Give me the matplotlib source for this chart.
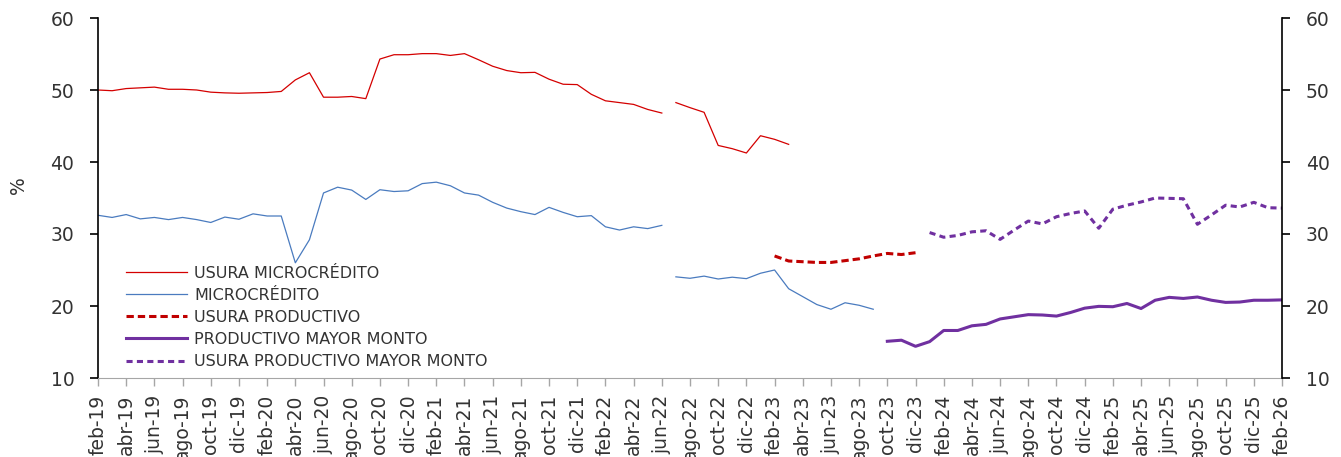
import matplotlib.pyplot as plt
import numpy as np

# eje mensual feb-19 ... feb-26
meses = ['ene', 'feb', 'mar', 'abr', 'may', 'jun', 'jul', 'ago', 'sep', 'oct', 'nov', 'dic']
fechas = [f'{meses[(1 + i) % 12]}-{19 + (1 + i) // 12}' for i in range(85)]

# usura microcredito (dos tramos)
usura_micro_a = [50.0, 49.9, 50.2, 50.3, 50.4, 50.1, 50.1, 50.0, 49.7, 49.6, 49.55,
                 49.6, 49.65, 49.8, 51.4, 52.4, 49.0, 49.0, 49.1, 48.8, 54.3,
                 54.9, 54.9, 55.05, 55.05, 54.8, 55.05, 54.2, 53.3, 52.7, 52.4,
                 52.45, 51.5, 50.8, 50.75, 49.4, 48.5, 48.25, 48.0, 47.3, 46.8]
usura_micro_b = [48.25, 47.55, 46.9, 42.3, 41.85, 41.25, 43.65, 43.15, 42.45]
inicio_usura_micro_b = 41

# microcredito (dos tramos)
micro_a = [32.6, 32.3, 32.7, 32.1, 32.3, 32.0, 32.3, 32.0, 31.6, 32.35, 32.05,
           32.8, 32.5, 32.5, 26.0, 29.2, 35.7, 36.5, 36.1, 34.8, 36.15,
           35.9, 36.0, 37.0, 37.2, 36.7, 35.7, 35.4, 34.4, 33.6, 33.1,
           32.7, 33.7, 33.0, 32.4, 32.55, 31.0, 30.55, 31.0, 30.75, 31.2]
micro_b = [24.05, 23.85, 24.15, 23.75, 24.0, 23.8, 24.55, 25.0, 22.4, 21.3,
           20.2, 19.55, 20.45, 20.1, 19.55]
inicio_micro_b = 41

usura_prod = [26.95, 26.25, 26.15, 26.05, 26.05, 26.3, 26.55, 26.95, 27.3, 27.15, 27.4]
inicio_usura_prod = 48

prod_mayor = [15.1, 15.25, 14.4, 15.05, 16.6, 16.6, 17.25, 17.45, 18.2, 18.5,
              18.8, 18.75, 18.6, 19.1, 19.7, 19.95, 19.9, 20.35, 19.65, 20.8,
              21.2, 21.05, 21.25, 20.8, 20.5, 20.55, 20.8, 20.8, 20.85]
inicio_prod_mayor = 56

usura_prod_mayor = [30.2, 29.55, 29.8, 30.3, 30.45, 29.25, 30.55, 31.8, 31.4, 32.4,
                    32.85, 33.2, 30.8, 33.45, 34.0, 34.45, 35.0, 34.95, 34.9, 31.35,
                    32.65, 34.0, 33.75, 34.4, 33.65, 33.6]
inicio_usura_prod_mayor = 59

rojo = '#d40000'
rojo_osc = '#c00000'
azul = '#4a7bbf'
morado = '#7030a0'
gris_txt = '#333333'

fig = plt.figure(figsize=(13.41, 4.57), dpi=100)
ax = fig.add_axes([98 / 1341, 1 - 378 / 457, (1282 - 98) / 1341, 360 / 457])


def tramo(vals, inicio):
    return np.arange(inicio, inicio + len(vals)), vals


x, y = tramo(usura_micro_a, 0)
ax.plot(x, y, color=rojo, lw=0.9, label='USURA MICROCRÉDITO')
x, y = tramo(usura_micro_b, inicio_usura_micro_b)
ax.plot(x, y, color=rojo, lw=0.9)
x, y = tramo(micro_a, 0)
ax.plot(x, y, color=azul, lw=0.9, label='MICROCRÉDITO')
x, y = tramo(micro_b, inicio_micro_b)
ax.plot(x, y, color=azul, lw=0.9)
x, y = tramo(usura_prod, inicio_usura_prod)
ax.plot(x, y, color=rojo_osc, lw=2.2, dashes=(2.4, 1.3), label='USURA PRODUCTIVO')
x, y = tramo(prod_mayor, inicio_prod_mayor)
ax.plot(x, y, color=morado, lw=2.2, label='PRODUCTIVO MAYOR MONTO')
x, y = tramo(usura_prod_mayor, inicio_usura_prod_mayor)
ax.plot(x, y, color=morado, lw=2.2, dashes=(2.0, 1.4), label='USURA PRODUCTIVO MAYOR MONTO')

ax.set_xlim(0, len(fechas) - 1)
ax.set_ylim(10, 60)
ax.set_yticks(range(10, 61, 10))
ax.set_xticks(range(0, len(fechas), 2))
ax.set_xticklabels(fechas[::2], rotation=90, fontsize=13.5, color=gris_txt)
ax.tick_params(axis='y', labelsize=13.5, colors='black', labelcolor=gris_txt,
               length=6, width=1.2, direction='out', pad=11)
ax.tick_params(axis='x', colors='#a6a6a6', labelcolor=gris_txt, length=6, width=1, pad=6)

for s in ['top', 'right']:
    ax.spines[s].set_visible(False)
ax.spines['left'].set_linewidth(1.2)
ax.spines['bottom'].set_color('#a6a6a6')
ax.set_ylabel('%', fontsize=13.5, color=gris_txt)
ax.yaxis.set_label_coords(-70 / 1184, (378 - 185) / 360)

ax2 = ax.twinx()
ax2.set_ylim(10, 60)
ax2.set_yticks(range(10, 61, 10))
ax2.tick_params(axis='y', labelsize=13.5, colors='black', labelcolor=gris_txt,
                length=6, width=1.2, pad=11)
for s in ['top', 'left', 'bottom']:
    ax2.spines[s].set_visible(False)
ax2.spines['right'].set_linewidth(1.2)

ax.legend(loc='upper left', bbox_to_anchor=(28 / 1184, 1 - 248 / 360), frameon=False,
          fontsize=11.5, handlelength=3.8, handletextpad=0.45, labelspacing=0.44,
          borderpad=0, borderaxespad=0, labelcolor=gris_txt)

fig.savefig('out.png', dpi=100)
